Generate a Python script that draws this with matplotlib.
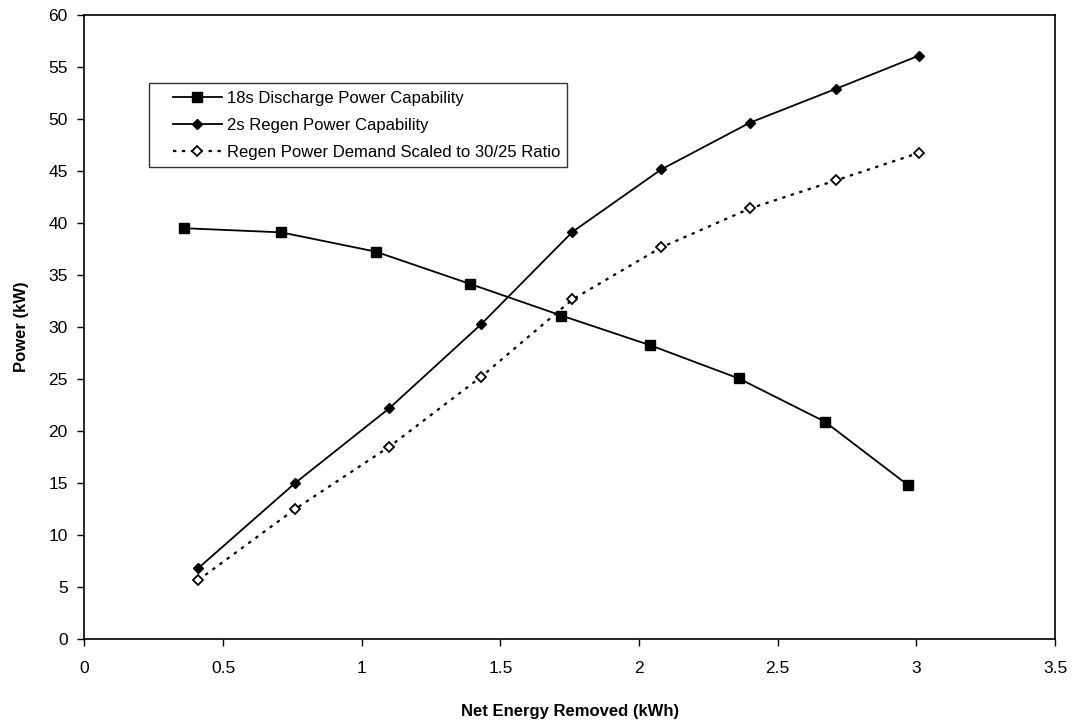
import matplotlib
matplotlib.use("Agg")
import matplotlib.pyplot as plt
from matplotlib.lines import Line2D
from matplotlib.legend_handler import HandlerLine2D

plt.rcParams['font.family'] = ['Liberation Sans', 'DejaVu Sans']

# net energy removed (kWh) and power (kW)
discharge_x = [0.36, 0.71, 1.05, 1.39, 1.72, 2.04, 2.36, 2.67, 2.97]
discharge_kw = [39.5, 39.1, 37.25, 34.15, 31.1, 28.25, 25.05, 20.9, 14.8]

regen_x = [0.41, 0.76, 1.10, 1.43, 1.76, 2.08, 2.40, 2.71, 3.01]
regen_kw = [6.8, 15.0, 22.2, 30.25, 39.15, 45.15, 49.65, 52.9, 56.1]
demand_kw = [5.65, 12.5, 18.5, 25.2, 32.65, 37.65, 41.4, 44.1, 46.75]

fig = plt.figure(figsize=(10.74, 7.21), dpi=100)
ax = fig.add_axes([0.0786, 0.1137, 0.9037, 0.8655])

ax.plot(discharge_x, discharge_kw, color='black', lw=1.3, marker='s',
        markersize=7, label='18s Discharge Power Capability')
ax.plot(regen_x, regen_kw, color='black', lw=1.3, marker='D',
        markersize=5.5, label='2s Regen Power Capability')
ax.plot(regen_x, demand_kw, color='black', lw=1.6, linestyle=(0, (1.5, 2.5)),
        marker='D', markersize=5, markerfacecolor='white', markeredgewidth=1.3,
        label='Regen Power Demand Scaled to 30/25 Ratio')

ax.set_xlim(0, 3.5)
ax.set_ylim(0, 60)
ax.set_xticks([0, 0.5, 1, 1.5, 2, 2.5, 3, 3.5])
ax.set_xticklabels(['0', '0.5', '1', '1.5', '2', '2.5', '3', '3.5'])
ax.set_yticks(range(0, 61, 5))
ax.tick_params(direction='out', length=5, width=1, labelsize=12.5)
ax.tick_params(axis='x', pad=11)
ax.tick_params(axis='y', pad=7)

for s in ax.spines.values():
    s.set_linewidth(1.2)

ax.set_xlabel('Net Energy Removed (kWh)', fontsize=12, fontweight='bold', labelpad=20)
ax.set_ylabel('Power (kW)', fontsize=12, fontweight='bold', labelpad=14)

# legend handles get a left gap inside the box
leg = ax.legend(loc='upper left', bbox_to_anchor=(0.0666, 0.891), fontsize=12,
                frameon=True, fancybox=False, handlelength=3.9, handletextpad=0.3,
                labelspacing=0.72, borderpad=0.45, borderaxespad=0,
                handler_map={Line2D: HandlerLine2D(xpad=1.0)})
leg.get_frame().set_edgecolor('black')
leg.get_frame().set_linewidth(1.0)

fig.savefig('out.png', dpi=100)
